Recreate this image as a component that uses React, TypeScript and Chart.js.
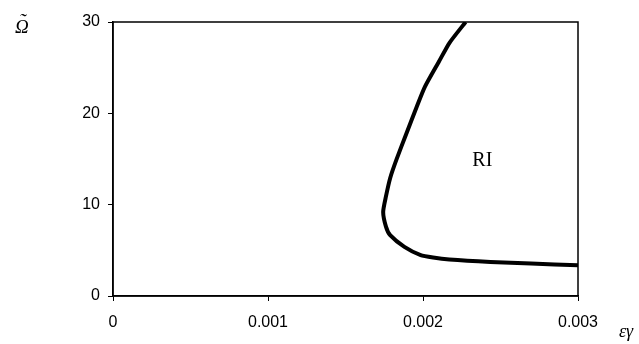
import React, { useEffect, useRef } from "react";
import { Chart, registerables } from "chart.js";

Chart.register(...registerables);

const epsGamma: number[] = [
  0.002275, 0.00217, 0.002104, 0.002012, 0.001959, 0.001893, 0.001828, 0.001788,
  0.001761, 0.001743, 0.001761, 0.001788, 0.00188, 0.001985, 0.002065, 0.00217,
  0.002435, 0.002697, 0.003,
];
const omega: number[] = [
  30, 27.7, 25.7, 22.9, 20.7, 17.8, 14.9, 12.9, 10.9, 9.2, 7.6, 6.66, 5.38, 4.47,
  4.21, 4.0, 3.73, 3.55, 3.37,
];
const xTickValues: number[] = [0, 0.001, 0.002, 0.003];
const xTickLabels: string[] = ["0", "0.001", "0.002", "0.003"];
const yTickValues: number[] = [0, 10, 20, 30];
const regionLabel = "RI";
const regionPos: number[] = [0.002383, 14.8];
const yTitle = "\u03A9";
const yTitleAccent = "\u02DC";
const xTitle = "\u03B5\u03B3";

const framePlugin = {
  id: "frameAndLabels",
  afterDraw(chart: any) {
    const { ctx, chartArea, scales } = chart;
    ctx.save();
    ctx.strokeStyle = "#000";
    ctx.lineWidth = 1.5;
    ctx.strokeRect(chartArea.left, chartArea.top, chartArea.right - chartArea.left, chartArea.bottom - chartArea.top);
    ctx.fillStyle = "#000";
    ctx.font = '20px "Liberation Serif", "DejaVu Serif", serif';
    ctx.textAlign = "center";
    ctx.textBaseline = "middle";
    ctx.fillText(regionLabel, scales.x.getPixelForValue(regionPos[0]), scales.y.getPixelForValue(regionPos[1]));
    ctx.textAlign = "left";
    ctx.textBaseline = "alphabetic";
    ctx.font = 'italic 19px "Liberation Serif", "DejaVu Serif", serif';
    ctx.fillText(yTitle, 15, 33);
    ctx.font = 'italic 20px "Liberation Serif", "DejaVu Serif", serif';
    ctx.fillText(yTitleAccent, 19, 28);
    ctx.font = 'italic 18px "Liberation Serif", "DejaVu Serif", serif';
    ctx.fillText(xTitle, 619, 337);
    ctx.restore();
  },
};

export default function App() {
  const ref = useRef<HTMLCanvasElement>(null);
  useEffect(() => {
    if (!ref.current) return;
    const data = epsGamma.map((x, i) => ({ x, y: omega[i] }));
    const chart = new Chart(ref.current, {
      type: "scatter",
      data: {
        datasets: [
          {
            data,
            showLine: true,
            borderColor: "#000",
            borderWidth: 4,
            pointRadius: 0,
            tension: 0.2,
            fill: false,
          },
        ],
      },
      options: {
        animation: false,
        responsive: false,
        maintainAspectRatio: false,
        layout: { padding: { left: 0, top: 22, right: 61, bottom: 0 } },
        plugins: { legend: { display: false }, tooltip: { enabled: false } },
        scales: {
          x: {
            type: "linear",
            min: 0,
            max: 0.003,
            afterBuildTicks: (s: any) => {
              s.ticks = xTickValues.map((v) => ({ value: v }));
            },
            afterFit: (s: any) => {
              s.height = 48;
            },
            grid: { display: true, drawOnChartArea: false, drawTicks: true, tickLength: 5, color: "#000", lineWidth: 1 },
            border: { display: true, color: "#000", width: 1.5 },
            ticks: {
              color: "#000",
              padding: 12,
              maxRotation: 0,
              font: { family: '"Liberation Sans", Arial, sans-serif', size: 16 },
              callback: (v: any) => {
                const i = xTickValues.findIndex((t) => Math.abs(t - v) < 1e-9);
                return i >= 0 ? xTickLabels[i] : "";
              },
            },
          },
          y: {
            type: "linear",
            min: 0,
            max: 30,
            afterBuildTicks: (s: any) => {
              s.ticks = yTickValues.map((v) => ({ value: v }));
            },
            afterFit: (s: any) => {
              s.width = 113;
            },
            grid: { display: true, drawOnChartArea: false, drawTicks: true, tickLength: 5, color: "#000", lineWidth: 1 },
            border: { display: true, color: "#000", width: 1.5 },
            ticks: {
              color: "#000",
              padding: 8,
              font: { family: '"Liberation Sans", Arial, sans-serif', size: 16 },
            },
          },
        },
      },
      plugins: [framePlugin],
    });
    return () => chart.destroy();
  }, []);
  return (
    <div style={{ position: "fixed", left: 0, top: 0, width: 639, height: 344, background: "#fff" }}>
      <canvas ref={ref} width={639} height={344} style={{ width: 639, height: 344, display: "block" }} />
    </div>
  );
}
